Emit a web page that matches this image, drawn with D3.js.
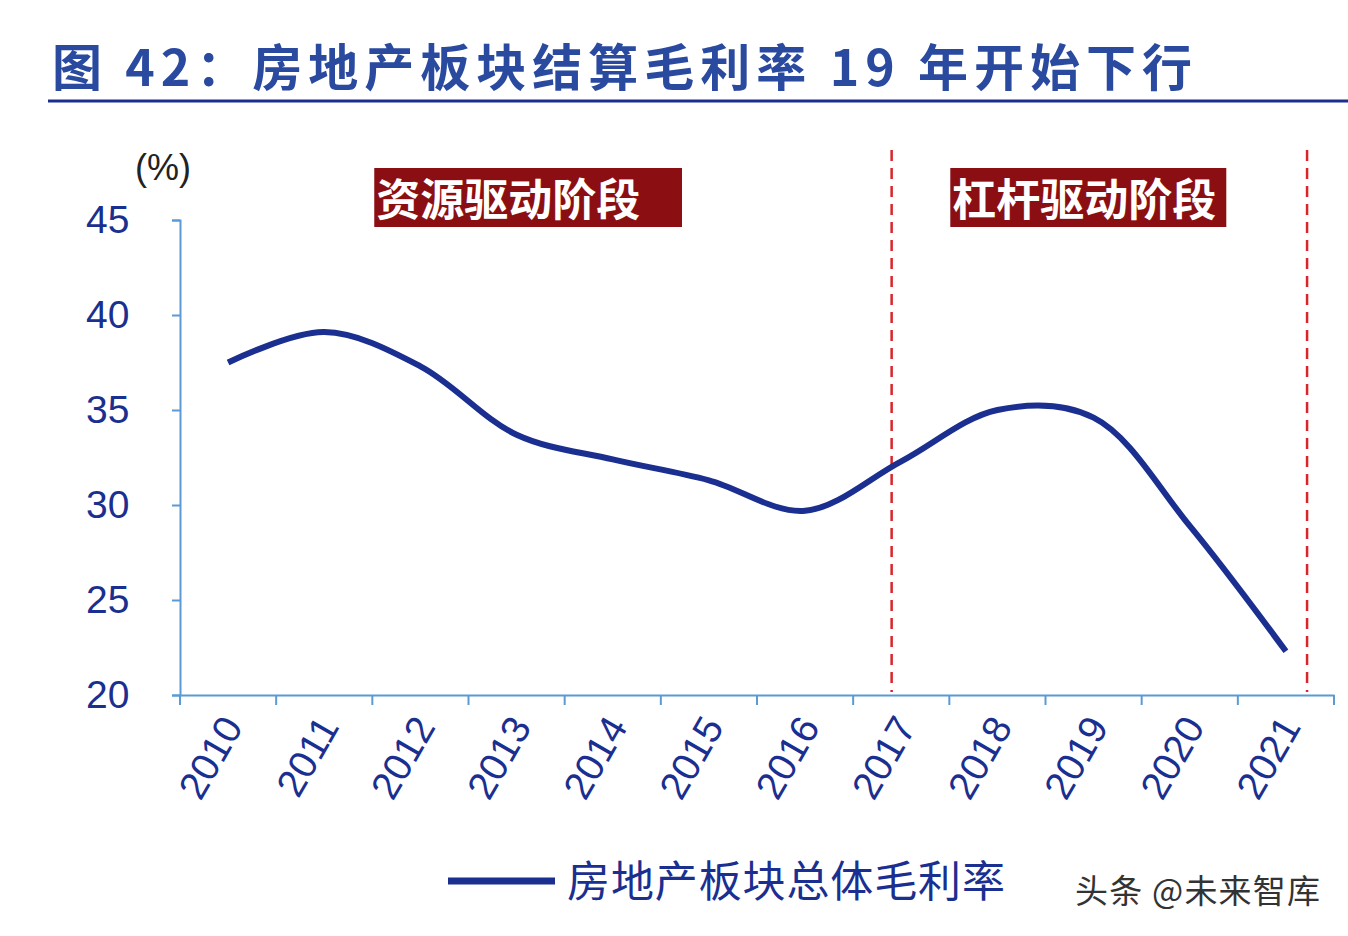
<!DOCTYPE html><html><head><meta charset="utf-8">
<script src="https://cdn.jsdelivr.net/npm/d3@7"></script>
<style>body{margin:0;background:#fff;font-family:"Noto Sans CJK SC","Noto Sans",sans-serif}</style></head><body>
<svg id="c" width="1348" height="936"></svg>
<script>
const years=[2010,2011,2012,2013,2014,2015,2016,2017,2018,2019,2020,2021];
const margin=[37.5,39.1,37.3,33.7,32.4,31.3,29.7,32.3,35.0,34.6,28.9,22.3];
const yTicks=[20,25,30,35,40,45];
const phaseLines=[2016.9,2021.22];
const phases=[{name:"资源驱动阶段",x0:2011.52,x1:2014.72},{name:"杠杆驱动阶段",x0:2017.51,x1:2020.38}];
const svg=d3.select("#c");
const navy="#1a2f8f",axisC="#5b9bd5";
svg.append("text").attr("x",52).attr("y",86).attr("font-size",50).attr("letter-spacing",3).attr("font-weight","bold").attr("fill","#2a4aa0").attr("textLength",1143).text("图 42：房地产板块结算毛利率 19 年开始下行");
svg.append("line").attr("x1",48).attr("x2",1348).attr("y1",101).attr("y2",101).attr("stroke",navy).attr("stroke-width",3);
const band=d3.scaleBand().domain(years).range([180,1334]);
const x=d3.scaleLinear().domain([2010,2021]).range([band(2010)+band.bandwidth()/2,band(2021)+band.bandwidth()/2]);
const y=d3.scaleLinear().domain([20,45]).range([695,220]);
const ya=svg.append("g").attr("transform","translate(180,0)").call(d3.axisLeft(y).tickValues(yTicks).tickSize(8).tickPadding(44).tickFormat(d=>d));
ya.selectAll("path,line").attr("stroke",axisC).attr("stroke-width",2);
ya.selectAll("text").attr("font-size",39).attr("fill",navy).attr("text-anchor","start").attr("x",-94).attr("font-family","Liberation Sans,Arial");
const xa=svg.append("g").attr("transform","translate(0,695)").call(d3.axisBottom(band).tickSize(0).tickFormat(""));
xa.select("path").attr("stroke",axisC).attr("stroke-width",2);
years.concat([2022]).forEach((yr,i)=>{const px=180+i*band.step();svg.append("line").attr("x1",px).attr("x2",px).attr("y1",695).attr("y2",705).attr("stroke",axisC).attr("stroke-width",2);});
years.forEach(yr=>{const cx=band(yr)+band.bandwidth()/2+4;svg.append("text").attr("transform",`translate(${cx},720) rotate(-60)`).attr("text-anchor","end").attr("dy","0.35em").attr("font-size",39).attr("fill",navy).attr("font-family","Liberation Sans,Arial").text(yr);});
svg.append("text").attr("x",135).attr("y",180).attr("font-size",36).attr("fill","#222").attr("font-family","Liberation Sans,Arial").text("(%)");
phaseLines.forEach(v=>svg.append("line").attr("x1",x(v)).attr("x2",x(v)).attr("y1",150).attr("y2",692).attr("stroke","#d9262b").attr("stroke-width",2.5).attr("stroke-dasharray","11,7"));
phases.forEach(p=>{svg.append("rect").attr("x",x(p.x0)).attr("y",168).attr("width",x(p.x1)-x(p.x0)).attr("height",59).attr("fill","#8b0f12");
svg.append("text").attr("x",x(p.x0)+2).attr("y",216).attr("font-size",44).attr("font-weight","bold").attr("fill","#fff").text(p.name);});
svg.append("path").datum(years.map((yr,i)=>[x(yr),y(margin[i])])).attr("d",d3.line().curve(d3.curveCatmullRom.alpha(0.5))).attr("fill","none").attr("stroke",navy).attr("stroke-width",6);
svg.append("line").attr("x1",448).attr("x2",555).attr("y1",881).attr("y2",881).attr("stroke",navy).attr("stroke-width",7);
svg.append("text").attr("x",567).attr("y",897).attr("font-size",43).attr("fill",navy).attr("textLength",438).text("房地产板块总体毛利率");
svg.append("text").attr("x",1075).attr("y",903).attr("font-size",33).attr("fill","#333").attr("textLength",245).text("头条 @未来智库");
</script></body></html>
